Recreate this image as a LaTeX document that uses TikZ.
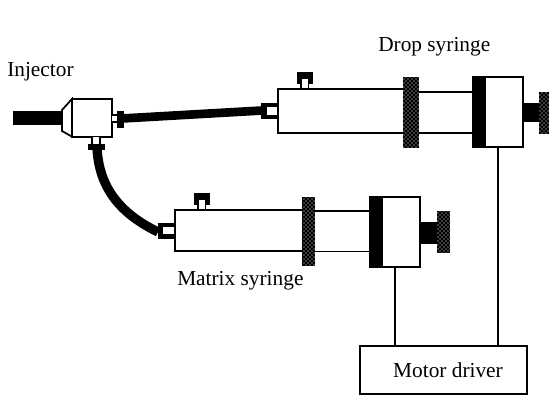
\documentclass[tikz,border=0pt]{standalone}
\usepackage{fontspec}
\setmainfont{Liberation Serif}
\usetikzlibrary{patterns}
\tikzset{
  whitepart/.style={fill=white,draw=black,line width=1.3pt},
  stipple/.style={pattern=crosshatch dots,pattern color=white},
  motorbox/.style={draw=black,fill=white,line width=1.6pt,inner sep=0pt,minimum width=37.5pt,minimum height=52pt},
  label/.style={inner sep=0pt,anchor=base west,font=\fontsize{16}{18}\selectfont},
}
\begin{document}
\begin{tikzpicture}[x=0.75pt,y=0.75pt,yscale=-1,xscale=1]
	\path[use as bounding box] (0,0) rectangle (549,395);

	% Text
	\node[label] (injectorlabel) at (7,77) {Injector};
	\node[label] (droplabel) at (378,52) {Drop syringe};
	\node[label] (matrixlabel) at (177,285) {Matrix syringe};

	% Injector
	\fill[black] (13,110.7) rectangle (63,125);
	\draw[whitepart] (72,99) -- (62,110) -- (62,131) -- (72,136.7) -- cycle;
	\draw[whitepart] (72,99) rectangle (111.7,136.7);
	\draw[whitepart,line width=0.8pt] (111.7,115) rectangle (118,122);
	\fill[black] (116.5,111) rectangle (124,128);
	\draw[whitepart,line width=0.8pt] (92,136.7) rectangle (100,145);
	\fill[black] (88,144) rectangle (105,150);

	% Tubes
	\draw[line width=6.5pt] (122,118.5) -- (262,110.5);
	\draw[line width=7pt] (97,148) .. controls (99,185) and (117,212) .. (158,232);

	% Drop syringe
	\fill[black] (261,102.7) rectangle (278,119);
	\fill[white] (267,107.5) rectangle (278,115.5);
	\draw[whitepart] (278,89.3) rectangle (404,133.3);
	\fill[black] (296.7,72) rectangle (312.7,80);
	\fill[black] (296.7,72) rectangle (301,84);
	\fill[black] (308.5,72) rectangle (312.7,84);
	\draw[black,fill=white,line width=0.8pt] (301,78) rectangle (308.5,89);
	\draw[whitepart] (418,92) rectangle (473,133.3);
	\fill[black] (403.3,76.7) rectangle (418.7,148);
	\fill[stipple] (403.3,76.7) rectangle (418.7,148);
	\node[motorbox] (dropmotor) at (498,112) {};
	\fill[black] (472.7,76) rectangle (486,148);
	\fill[black] (523,102.7) rectangle (540,121.7);
	\fill[black] (539,91.7) rectangle (549,134);
	\fill[stipple] (539,91.7) rectangle (549,134);

	% Matrix syringe
	\fill[black] (158,222.7) rectangle (175,239);
	\fill[white] (163,227) rectangle (175,234);
	\draw[whitepart] (175,210) rectangle (303,251);
	\fill[black] (193.7,193) rectangle (210,201);
	\fill[black] (193.7,193) rectangle (198,205);
	\fill[black] (205.5,193) rectangle (210,205);
	\draw[black,fill=white,line width=0.8pt] (198,199) rectangle (205.5,210);
	\draw[whitepart] (314,211) rectangle (371,251.6);
	\fill[black] (302.3,197.3) rectangle (315,265.7);
	\fill[stipple] (302.3,197.3) rectangle (315,265.7);
	\node[motorbox] (matrixmotor) at (395,232) {};
	\fill[black] (370,196.7) rectangle (383,266.7);
	\fill[black] (420,221.7) rectangle (437,244);
	\fill[black] (436.7,211) rectangle (450,253);
	\fill[stipple] (436.7,211) rectangle (450,253);

	% Motor driver
	\node[draw=black,line width=1.2pt,inner sep=0pt,minimum width=125pt,minimum height=36pt,font=\fontsize{16}{18}\selectfont] (driver) at (443.5,370) {\hspace*{6.75pt}Motor driver};
	\draw[line width=0.9pt] (dropmotor.south) -- (dropmotor.south |- driver.north);
	\draw[line width=0.9pt] (matrixmotor.south) -- (matrixmotor.south |- driver.north);

\end{tikzpicture}
\end{document}
